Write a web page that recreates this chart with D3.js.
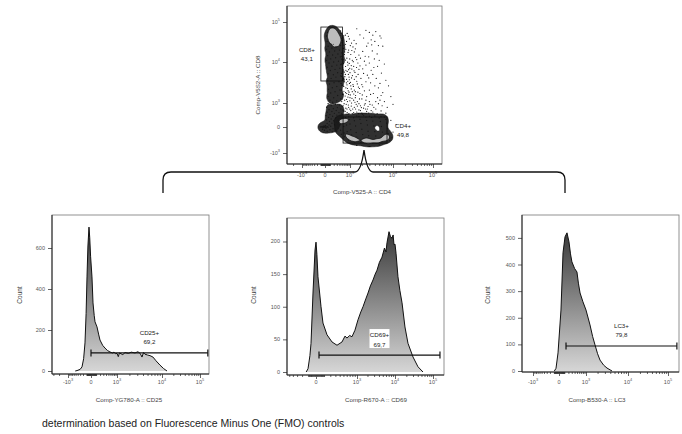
<!DOCTYPE html>
<html>
<head>
<meta charset="utf-8">
<script src="https://cdn.jsdelivr.net/npm/d3@7"></script>
<style>
  body { margin: 0; background: #fff; }
  svg { display: block; font-family: "Liberation Sans", Arial, sans-serif; }
</style>
</head>
<body>
<div class="canvas"></div>
<script>
// page size
const w = 682;
const h = 434;

// ---- data ----
// biexponential axis: major ticks and their labels [base, exponent]
const logTicks = [-1000, 0, 1000, 10000, 100000];
const logTickLabels = [["-10", "3"], ["0", ""], ["10", "3"], ["10", "4"], ["10", "5"]];

// scatter events (CD4 on x, CD8 on y)
const cd8Events = [[130,71000],[210,68000],[90,64000],[270,62000],[160,58000],[50,55000],[340,54000],[230,51000],[110,49000],[420,47000],[30,45000],[190,44000],[300,42000],[70,40000],[480,39000],[140,37000],[380,36000],[250,34000],[40,33000],[520,31000],[100,30000],[320,29000],[200,27500],[450,26000],[60,25000],[280,24000],[150,22500],[560,22000],[30,21000],[400,20000],[230,19000],[90,18000],[500,17000],[340,16000],[170,15000],[50,14500],[440,13500],[260,12800],[120,12000],[580,11500],[30,11000],[360,10500],[200,10000],[80,9500],[480,9000],[300,8500],[150,8000],[40,7600],[420,7200],[240,6800],[110,6400],[540,6100],[330,5700],[60,5400],[190,5100],[450,4800],[270,4500],[130,4200],[600,3900],[50,3700],[380,3500],[210,3300],[90,3100],[500,2900],[300,2700],[160,2500],[70,2300],[420,2200],[240,2000],[120,1850],[550,1700],[330,1600],[60,1500],[200,1400],[450,1300],[100,1200],[300,1150],[170,1050]];
const cornerEvents = [[60,950],[250,900],[400,850],[130,800],[520,750],[30,700],[320,680],[190,620],[460,600],[80,560],[280,520],[600,500],[150,470],[40,440],[380,420],[220,390],[500,370],[100,340],[300,320],[20,300],[170,280],[430,260],[70,240],[260,220],[560,200],[130,190],[350,170],[30,160],[200,140],[480,130],[90,120],[290,100],[150,80],[40,70],[400,60],[230,50],[80,40],[10,30],[-20,20],[-40,10],[0,0],[-30,-10],[20,-20],[60,-5],[120,15],[180,-30],[-50,-40],[250,30],[330,-15],[100,-50],[-10,-60],[40,-80],[160,-90],[280,-70],[-100,0],[-80,5],[-60,-5],[-45,2],[-25,-3],[-10,8],[5,-8],[15,3],[30,-2],[45,6]];
const cd4Events = [[300,150],[320,60],[350,-20],[300,-80],[380,200],[420,90],[450,-60],[480,-150],[500,220],[560,120],[600,10],[620,-120],[650,-220],[700,240],[720,150],[760,40],[800,-90],[830,-200],[860,-280],[900,260],[950,170],[1000,60],[1050,-50],[1100,-170],[1150,-280],[1200,-340],[1250,230],[1300,140],[1400,20],[1450,-110],[1500,-230],[1550,-320],[1600,-380],[1700,270],[1800,180],[1900,70],[2000,-40],[2100,-160],[2200,-270],[2300,-360],[2400,-410],[2500,250],[2600,150],[2700,40],[2800,-80],[2900,-190],[3000,-300],[3100,-380],[3200,-420],[3400,240],[3600,130],[3800,20],[4000,-90],[4200,-200],[4400,-300],[4600,-370],[4800,-400],[5000,220],[5300,120],[5600,10],[5900,-100],[6200,-210],[6500,-290],[6800,-330],[7000,180],[7300,80],[7600,-30],[7900,-140],[8200,-230],[8500,-260],[3000,280],[1500,290],[5500,260],[2200,300],[4000,290],[6500,250],[900,-330],[1300,-390],[1900,-420],[2600,-440],[3500,-450],[4300,-430],[5500,-380],[6800,-300],[7800,-200]];
const cloudEvents = [[450,60000],[600,45000],[520,35000],[800,52000],[700,28000],[950,38000],[580,22000],[1100,30000],[650,18000],[900,20000],[1200,24000],[500,14000],[780,12500],[1050,15500],[1300,18000],[620,10000],[850,8500],[1150,11000],[1400,13000],[550,7500],[720,6500],[980,7200],[1250,8000],[1600,9500],[480,5500],[660,4600],[880,5200],[1100,4300],[1350,5800],[1700,6800],[530,3800],[750,3300],[950,3900],[1200,3000],[1500,3600],[1900,4200],[600,2700],[820,2400],[1050,2800],[1300,2200],[1650,2600],[2000,3000],[700,1900],[900,1700],[1150,2000],[1400,1600],[1800,1800],[2300,2100],[520,1300],[760,1250],[1000,1400],[1250,1200],[1550,1100],[2000,1300],[2600,1500],[620,950],[880,850],[1100,1000],[1450,900],[1850,800],[2400,950],[3000,1100],[720,650],[980,600],[1300,700],[1700,550],[2200,650],[2800,750],[3500,850],[800,420],[1150,380],[1500,450],[2000,400],[2600,480],[3300,520],[4200,600],[2200,40000],[3000,55000],[2600,25000],[4000,33000],[1800,48000],[5200,45000],[3500,19000],[2400,14000],[4500,16000],[6000,25000],[3000,9500],[5000,11000],[2100,7000],[3800,7500],[6500,9000],[2700,5000],[4300,4200],[5600,5600],[3200,3300],[7000,3800],[4800,2500],[6000,1900],[3700,1800],[8000,2800],[5200,1200],[4200,58000],[3300,36000],[5500,40000],[4800,26000],[3600,47000],[1500,68000],[2500,62000],[9000,1500],[10000,900],[7500,700],[4600,1400],[5800,800],[9000,150],[10000,-100],[8500,-350],[12000,50],[9500,-250],[3000,-600],[1500,-550],[5000,-520],
  [470,52000],[560,41000],[690,47000],[530,30500],[610,26500],[760,33000],[880,44000],[1020,26000],[1280,35000],[1450,29000],[640,15500],[720,21000],[860,17500],[980,12000],[1120,19500],[1380,21500],[1700,15000],[2100,18500],[2800,30000],[3400,27000],[510,11800],[590,9200],[700,11200],[830,9900],[940,9300],[1080,8300],[1220,10200],[1500,11500],[1850,12500],[2300,10500],[2900,13500],[3900,12000],[460,8700],[540,6800],[630,5900],[700,7900],[800,6100],[900,6700],[1000,5700],[1120,6900],[1280,6300],[1480,7500],[1800,8200],[2500,8500],[3300,6500],[4600,8000],[500,4700],[580,4200],[690,5200],[760,4000],[840,3600],[930,4500],[1030,3400],[1160,4900],[1300,4000],[1450,4600],[1620,5200],[2200,5500],[2900,4300],[3600,5200],[470,3200],[560,2900],[640,3500],[720,2500],[790,2950],[870,2100],[960,3200],[1080,2350],[1230,2700],[1380,2000],[1550,3100],[1750,2400],[2100,2650],[2500,3500],[3000,2200],[4000,2800],[5200,3200],[480,2200],[540,1700],[610,2050],[680,1550],[770,1800],[850,1450],[930,1950],[1020,1650],[1130,1350],[1260,1750],[1380,1400],[1600,1950],[1750,1300],[2050,1650],[2500,1200],[3200,1700],[4200,1100],[5500,1600],[500,1100],[570,800],[650,1200],[740,900],[820,1100],[900,700],[990,1150],[1080,780],[1180,600],[1350,1050],[1550,780],[1700,950],[1950,680],[2300,850],[2700,600],[3100,900],[3800,700],[4800,950],[6500,1100],[560,550],[680,480],[790,600],[920,380],[1050,520],[1250,420],[1400,600],[1650,380],[1850,520],[2100,350],[2450,600],[2900,400],[3600,450],[4500,380],[5500,500],[7000,400]];

// scatter gates
const scatterGateNames = ["CD8+", "CD4+"];
const scatterGatePercents = ["43,1", "49,8"];
const scatterGateX = [[-90, 540], [566, 7420]];
const scatterGateY = [[3650, 75000], [-442, 253]];

// histograms: [fluorescence, count]
const cd25Bins = [[-520,0],[-432,2],[-300,8],[-232,20],[-180,60],[-140,137],[-110,280],[-87,459],[-65,610],[-41,702],[-25,650],[-8,560],[17,459],[36,332],[60,270],[76,240],[121,215],[160,180],[198,151],[280,125],[360,112],[460,100],[575,93],[700,88],[800,92],[900,84],[1000,86],[1080,70],[1150,88],[1400,80],[1580,90],[1900,86],[2200,92],[2676,88],[3100,94],[3500,85],[3800,68],[4100,90],[4410,82],[5000,78],[5630,75],[6500,68],[7500,50],[9070,29],[11000,12],[13600,0]];
const cd69Bins = [[-130,0],[-102,5],[-75,25],[-60,44],[-35,121],[-11,187],[0,199],[10,180],[22,146],[59,100],[85,75],[145,57],[232,46],[336,41],[460,46],[546,55],[609,52],[700,56],[786,54],[908,64],[1072,80],[1300,92],[1503,100],[1800,112],[2068,121],[2400,132],[2808,141],[3200,150],[3565,156],[4100,168],[4770,176],[5500,190],[6000,184],[6360,198],[7130,215],[7700,208],[8440,205],[9000,210],[9450,195],[10000,196],[10660,182],[12000,146],[13500,125],[15400,106],[18400,69],[22100,44],[30000,23],[40500,8],[54800,0]];
const lc3Bins = [[-90,0],[-55,10],[-17,68],[34,229],[73,444],[116,504],[163,519],[216,485],[260,440],[305,410],[400,385],[496,372],[560,330],[642,293],[800,260],[1000,229],[1284,173],[1500,130],[1726,98],[2000,65],[2292,41],[2800,22],[3360,11],[4390,0]];

const histYTicks = [[0, 200, 400, 600], [0, 50, 100, 150, 200], [0, 100, 200, 300, 400, 500]];
const histYMinorStep = [40, 10, 20];
const histAxisLabels = ["Comp-YG780-A :: CD25", "Comp-R670-A :: CD69", "Comp-B530-A :: LC3"];

// histogram gates
const gateNames = ["CD25+", "CD69+", "LC3+"];
const gatePercents = ["69,2", "69,7", "79,8"];
const gateRanges = [[0, 160000], [34, 152000], [139, 166000]];
const gateLevels = [88, 26, 94];

// ---- layout ----
const svg = d3.select(".canvas").append("svg").attr("width", w).attr("height", h);
const defs = svg.append("defs");

// minor ticks of a biexponential axis
const minorTicks = [];
[10, 100, 1000, 10000].forEach((p) => {
  d3.range(1, 10).forEach((m) => {
    const v = m * p;
    if (!logTicks.includes(v)) minorTicks.push(v);
    if (!logTicks.includes(-v)) minorTicks.push(-v);
  });
});
d3.range(2, 10).forEach((m) => minorTicks.push(m * 100000));

const bix = (range) => d3.scaleSymlog().constant(300).domain(logTicks).range(range);

// superscript tick label
function supLabel(sel, lab, size) {
  sel.append("tspan").text(lab[0]);
  if (lab[1]) sel.append("tspan").attr("dy", -2.6).attr("font-size", size * 0.7).text(lab[1]);
}

function frame(g, box) {
  g.append("rect")
    .attr("x", box.l).attr("y", box.t)
    .attr("width", box.r - box.l).attr("height", box.b - box.t)
    .attr("fill", "none").attr("stroke", "#777").attr("stroke-width", 0.8);
  g.append("line").attr("x1", box.l).attr("x2", box.r).attr("y1", box.b).attr("y2", box.b).attr("stroke", "#222");
  g.append("line").attr("x1", box.l).attr("x2", box.l).attr("y1", box.t).attr("y2", box.b).attr("stroke", "#222");
}

// bottom biexponential axis
function bixAxisX(g, x, box, labelY) {
  const inside = (v) => x(v) >= box.l + 1 && x(v) <= box.r - 1;
  const ax = g.append("g").attr("transform", `translate(0, ${box.b})`);
  ax.call(d3.axisBottom(x).tickValues(minorTicks.filter(inside)).tickSize(2).tickSizeOuter(0).tickFormat(""));
  ax.call((s) => s.select(".domain").remove());
  const ax2 = g.append("g").attr("transform", `translate(0, ${box.b})`);
  ax2.call(d3.axisBottom(x).tickValues(logTicks.filter(inside)).tickSize(4).tickSizeOuter(0).tickFormat(""));
  ax2.call((s) => s.select(".domain").remove());
  g.selectAll(".tick line").attr("stroke", "#222").attr("stroke-width", 0.7);
  logTicks.forEach((v, i) => {
    if (!inside(v) || x(v) - box.l < 8) return;
    const t = g.append("text").attr("x", x(v)).attr("y", labelY)
      .attr("text-anchor", "middle").attr("font-size", 5.5).attr("fill", "#555");
    supLabel(t, logTickLabels[i], 5.5);
  });
}

// ---- top scatter plot ----
const sBox = { l: 287, t: 6, r: 442, b: 164 };
const sx = bix([302, 325, 350, 393, 433]);
const sy = bix([153, 127, 103, 62, 22]);
const sg = svg.append("g");

defs.append("clipPath").attr("id", "sclip").append("rect")
  .attr("x", sBox.l).attr("y", sBox.t).attr("width", sBox.r - sBox.l).attr("height", sBox.b - sBox.t);

const dotsG = sg.append("g").attr("clip-path", "url(#sclip)");
const clusterEvents = cd8Events.concat(cornerEvents, cd4Events);

// cluster events first, then the dense zebra shading over them
dotsG.append("g").selectAll("circle").data(clusterEvents).enter().append("circle")
  .attr("cx", (d) => sx(d[0])).attr("cy", (d) => sy(d[1]))
  .attr("r", 0.7).attr("fill", "#111");

const zebra = dotsG.append("g").attr("transform", `translate(${sBox.l}, ${sBox.t})`);
const populations = [
  { events: cd8Events, bw: 2.5, lo: 0.3, hi: 0.72 },
  { events: cornerEvents, bw: 2.5, lo: 0.15, hi: null },
  { events: cd4Events, bw: 3, lo: 0.3, hi: 0.76 }
];
populations.forEach((pop) => {
  const cs = d3.contourDensity()
    .x((d) => sx(d[0]) - sBox.l)
    .y((d) => sy(d[1]) - sBox.t)
    .size([sBox.r - sBox.l, sBox.b - sBox.t])
    .cellSize(1)
    .bandwidth(pop.bw)
    .thresholds(40)(pop.events);
  const vmax = d3.max(cs, (d) => d.value);
  zebra.append("path").datum(cs.find((d) => d.value >= vmax * pop.lo)).attr("d", d3.geoPath())
    .attr("fill", "#1a1a1a").attr("fill-opacity", 0.9).attr("stroke", "#111").attr("stroke-width", 0.5);
  if (pop.hi) {
    zebra.append("path").datum(cs.find((d) => d.value >= vmax * pop.hi)).attr("d", d3.geoPath())
      .attr("fill", "#bdbdbd").attr("stroke", "#111").attr("stroke-width", 0.8);
  }
});

dotsG.append("g").selectAll("circle").data(cloudEvents).enter().append("circle")
  .attr("cx", (d) => sx(d[0])).attr("cy", (d) => sy(d[1]))
  .attr("r", 0.6).attr("fill", "#111");

frame(sg, sBox);
bixAxisX(sg, sx, sBox, 177);

// left axis of scatter
{
  const inside = (v) => sy(v) >= sBox.t + 1 && sy(v) <= sBox.b - 1;
  const ay = sg.append("g").attr("transform", `translate(${sBox.l}, 0)`);
  ay.call(d3.axisLeft(sy).tickValues(minorTicks.filter(inside)).tickSize(2).tickSizeOuter(0).tickFormat(""));
  ay.call(d3.axisLeft(sy).tickValues(logTicks).tickSize(4).tickSizeOuter(0).tickFormat(""));
  ay.selectAll(".domain").remove();
  ay.selectAll(".tick line").attr("stroke", "#222").attr("stroke-width", 0.7);
  logTicks.forEach((v, i) => {
    const t = sg.append("text").attr("x", sBox.l - 7).attr("y", sy(v) + 2)
      .attr("text-anchor", "end").attr("font-size", 5.5).attr("fill", "#555");
    supLabel(t, logTickLabels[i], 5.5);
  });
}

sg.append("text").attr("x", 362).attr("y", 194).attr("text-anchor", "middle")
  .attr("font-size", 6.2).attr("fill", "#444").text("Comp-V525-A :: CD4");
sg.append("text").attr("transform", `translate(260, 85) rotate(-90)`).attr("text-anchor", "middle")
  .attr("font-size", 6.2).attr("fill", "#444").text("Comp-V5S2-A :: CD8");

// gates of scatter
scatterGateNames.forEach((name, i) => {
  const x0 = sx(scatterGateX[i][0]), x1 = sx(scatterGateX[i][1]);
  const y0 = sy(scatterGateY[i][1]), y1 = sy(scatterGateY[i][0]);
  sg.append("rect").attr("x", x0).attr("y", y0).attr("width", x1 - x0).attr("height", y1 - y0)
    .attr("fill", "none").attr("stroke", "#111").attr("stroke-width", 0.8);
  const lx = i === 0 ? x0 - 14 : x1 + 16;
  const ly = (y0 + y1) / 2;
  sg.append("text").attr("x", lx).attr("y", ly - 2).attr("text-anchor", "middle")
    .attr("font-size", 6.2).attr("fill", "#222").text(name);
  sg.append("text").attr("x", lx).attr("y", ly + 7).attr("text-anchor", "middle")
    .attr("font-size", 6.2).attr("fill", "#222").text(scatterGatePercents[i]);
});

// bracket from the scatter to the three histograms
svg.append("path")
  .attr("d", "M163,193 L163,180 Q163,172 171,172 L355,172 Q361,172 364,150 Q367,172 373,172 L557,172 Q565,172 565,180 L565,193")
  .attr("fill", "none").attr("stroke", "#111").attr("stroke-width", 1.3);

// ---- histograms ----
const histPanels = [
  { bins: cd25Bins, box: { l: 52, t: 215, r: 209, b: 374 }, xr: [68, 91, 117, 162, 200], zeroY: 371, topCount: 761, labelX: 129, countX: 22 },
  { bins: cd69Bins, box: { l: 287, t: 218, r: 444, b: 375 }, xr: [276, 316, 357, 395, 433], zeroY: 372, topCount: 236, labelX: 376, countX: 256 },
  { bins: lc3Bins, box: { l: 522, t: 215, r: 679, b: 372 }, xr: [533, 559, 586, 628, 668], zeroY: 371, topCount: 586, labelX: 597, countX: 490 }
];

histPanels.forEach((p, i) => {
  const g = svg.append("g");
  const x = bix(p.xr);
  const y = d3.scaleLinear().domain([0, p.topCount]).range([p.zeroY, p.box.t]);

  const grad = defs.append("linearGradient").attr("id", `grad${i}`)
    .attr("x1", 0).attr("y1", 0).attr("x2", 0).attr("y2", 1);
  grad.append("stop").attr("offset", 0).attr("stop-color", "#3a3a3a");
  grad.append("stop").attr("offset", 1).attr("stop-color", "#d6d6d6");

  const area = d3.area().x((d) => x(d[0])).y0(y(0)).y1((d) => y(d[1]));
  const line = d3.line().x((d) => x(d[0])).y((d) => y(d[1]));
  g.append("path").datum(p.bins).attr("d", area).attr("fill", `url(#grad${i})`);
  g.append("path").datum(p.bins).attr("d", line).attr("fill", "none")
    .attr("stroke", "#111").attr("stroke-width", 1);

  frame(g, p.box);
  bixAxisX(g, x, p.box, 384);

  // count axis
  const ya = g.append("g").attr("transform", `translate(${p.box.l}, 0)`);
  const ymax = p.topCount;
  ya.call(d3.axisLeft(y).tickValues(d3.range(0, ymax, histYMinorStep[i])).tickSize(2).tickSizeOuter(0).tickFormat(""));
  ya.call(d3.axisLeft(y).tickValues(histYTicks[i]).tickSize(4).tickSizeOuter(0).tickFormat(""));
  ya.selectAll(".domain").remove();
  ya.selectAll(".tick line").attr("stroke", "#222").attr("stroke-width", 0.7);
  histYTicks[i].forEach((v) => {
    g.append("text").attr("x", p.box.l - 7).attr("y", y(v) + 2)
      .attr("text-anchor", "end").attr("font-size", 5.5).attr("fill", "#555").text(v);
  });

  g.append("text").attr("transform", `translate(${p.countX}, 295) rotate(-90)`).attr("text-anchor", "middle")
    .attr("font-size", 6.5).attr("fill", "#444").text("Count");
  g.append("text").attr("x", p.labelX).attr("y", 402).attr("text-anchor", "middle")
    .attr("font-size", 6.2).attr("fill", "#444").text(histAxisLabels[i]);

  // gate bar with label
  const gx0 = x(gateRanges[i][0]), gx1 = x(gateRanges[i][1]), gy = y(gateLevels[i]);
  g.append("line").attr("x1", gx0).attr("x2", gx1).attr("y1", gy).attr("y2", gy)
    .attr("stroke", "#111").attr("stroke-width", 1.2);
  [gx0, gx1].forEach((gx) => g.append("line").attr("x1", gx).attr("x2", gx)
    .attr("y1", gy - 3.5).attr("y2", gy + 3.5).attr("stroke", "#111").attr("stroke-width", 1.2));
  const cx = (gx0 + gx1) / 2;
  g.append("rect").attr("x", cx - 10).attr("y", gy - 26).attr("width", 20).attr("height", 19).attr("fill", "#fff");
  g.append("text").attr("x", cx).attr("y", gy - 18).attr("text-anchor", "middle")
    .attr("font-size", 6.2).attr("fill", "#222").text(gateNames[i]);
  g.append("text").attr("x", cx).attr("y", gy - 8.5).attr("text-anchor", "middle")
    .attr("font-size", 6.2).attr("fill", "#222").text(gatePercents[i]);
});

// caption
svg.append("text").attr("x", 42).attr("y", 427).attr("font-size", 10.5).attr("fill", "#222")
  .text("determination based on Fluorescence Minus One (FMO) controls");
</script>
</body>
</html>
